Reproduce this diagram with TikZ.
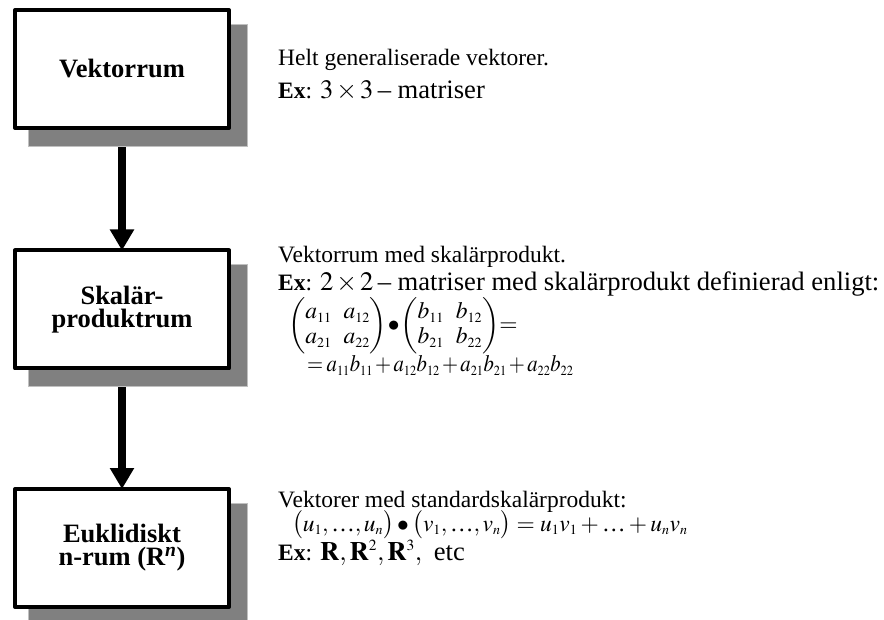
\documentclass[tikz,border=0pt]{standalone}
\usepackage{mathptmx}
\usepackage{amsmath}
\usepackage{graphicx}
\usepackage{fontspec}
\setmainfont{Liberation Serif}
\usetikzlibrary{arrows.meta}
\DeclareMathSizes{23.5}{23.5}{14}{10}
\DeclareMathSizes{26.6}{26.6}{15.5}{11}
\pgfdeclarelayer{bg}
\pgfsetlayers{bg,main}
\definecolor{shadowgray}{HTML}{808080}
\definecolor{shadowedge}{HTML}{C0C0C0}
\newcommand{\exsize}{\fontsize{26.6}{30}\selectfont\medmuskip=2mu\thickmuskip=3mu}
\newcommand{\tightmath}{\medmuskip=2mu\thickmuskip=3mu\thinmuskip=2mu}
\tikzset{
  box/.style={draw=black, line width=4pt, fill=white, line join=round,
    minimum width=214pt, minimum height=118pt, outer sep=0pt, inner sep=0pt,
    align=center, font=\fontsize{26.5}{23}\selectfont\bfseries},
  shade/.style={fill=shadowgray, draw=shadowedge, line width=1pt},
  flow/.style={line width=8.5pt, -{Triangle[width=23pt,length=21pt]}},
  desc/.style={anchor=base west, inner sep=0pt, align=left,
    font=\fontsize{23.5}{25}\selectfont},
}
\begin{document}
\begin{tikzpicture}[x=1pt,y=-1pt]
\useasboundingbox (0,0) rectangle (884,620);
% boxes
\node[box] (b1) at (122,69) {Vektorrum};
\node[box] (b2) at (122,309.5) {Skalär-\\produktrum};
\node[box] (b3) at (122,548) {Euklidiskt\\n-rum (R\textsuperscript{\itshape n})};
\begin{pgfonlayer}{bg}
  \draw[flow] (b1.south) -- (b2.north);
  \draw[flow] (b2.south) -- (b3.north);
  \draw[shade] ([shift={(13.5,14.5)}]b1.north west) rectangle ([shift={(18.5,18.5)}]b1.south east);
  \draw[shade] ([shift={(13.5,14.5)}]b2.north west) rectangle ([shift={(18.5,18.5)}]b2.south east);
  \draw[shade] ([shift={(13.5,14.5)}]b3.north west) rectangle ([shift={(18.5,18.5)}]b3.south east);
\end{pgfonlayer}
% descriptions
\node[desc] (t1a) at (278,66) {Helt generaliserade vektorer.};
\node[desc] (t1b) at (278,99) {\textbf{Ex}:\hspace{8pt}{\exsize$3\times 3$\,– matriser}};
\node[desc] (t2a) at (278,263) {Vektorrum med skalärprodukt.};
\node[desc] (t2b) at (278,291) {\textbf{Ex}:\hspace{8pt}{\exsize$2\times 2$\,– matriser med skalärprodukt definierad enligt:}};
\node[desc, anchor=west] (t2c) at (288,326) {\arraycolsep=6pt$\begin{pmatrix} a_{11} & a_{12}\\ a_{21} & a_{22}\end{pmatrix}\!\bullet\!\begin{pmatrix} b_{11} & b_{12}\\ b_{21} & b_{22}\end{pmatrix}\!{=}$};
\node[desc] (t2d) at (307,372) {\scalebox{0.88}[1]{\tightmath$=a_{11}b_{11}+a_{12}b_{12}+a_{21}b_{21}+a_{22}b_{22}$}};
\node[desc] (t3a) at (278,507) {Vektorer med standardskalärprodukt:};
\node[desc] (t3b) at (292,531) {$\bigl(u_1,\mbox{…},u_n\bigr)\bullet\bigl(v_1,\mbox{…},v_n\bigr)=u_1v_1+\mbox{…}+u_nv_n$};
\node[desc] (t3c) at (278,560) {\textbf{Ex}:\hspace{8pt}{\exsize$\mathbf{R},\mathbf{R}^{2},\mathbf{R}^{3},$\hspace{5pt} etc}};
\end{tikzpicture}
\end{document}
